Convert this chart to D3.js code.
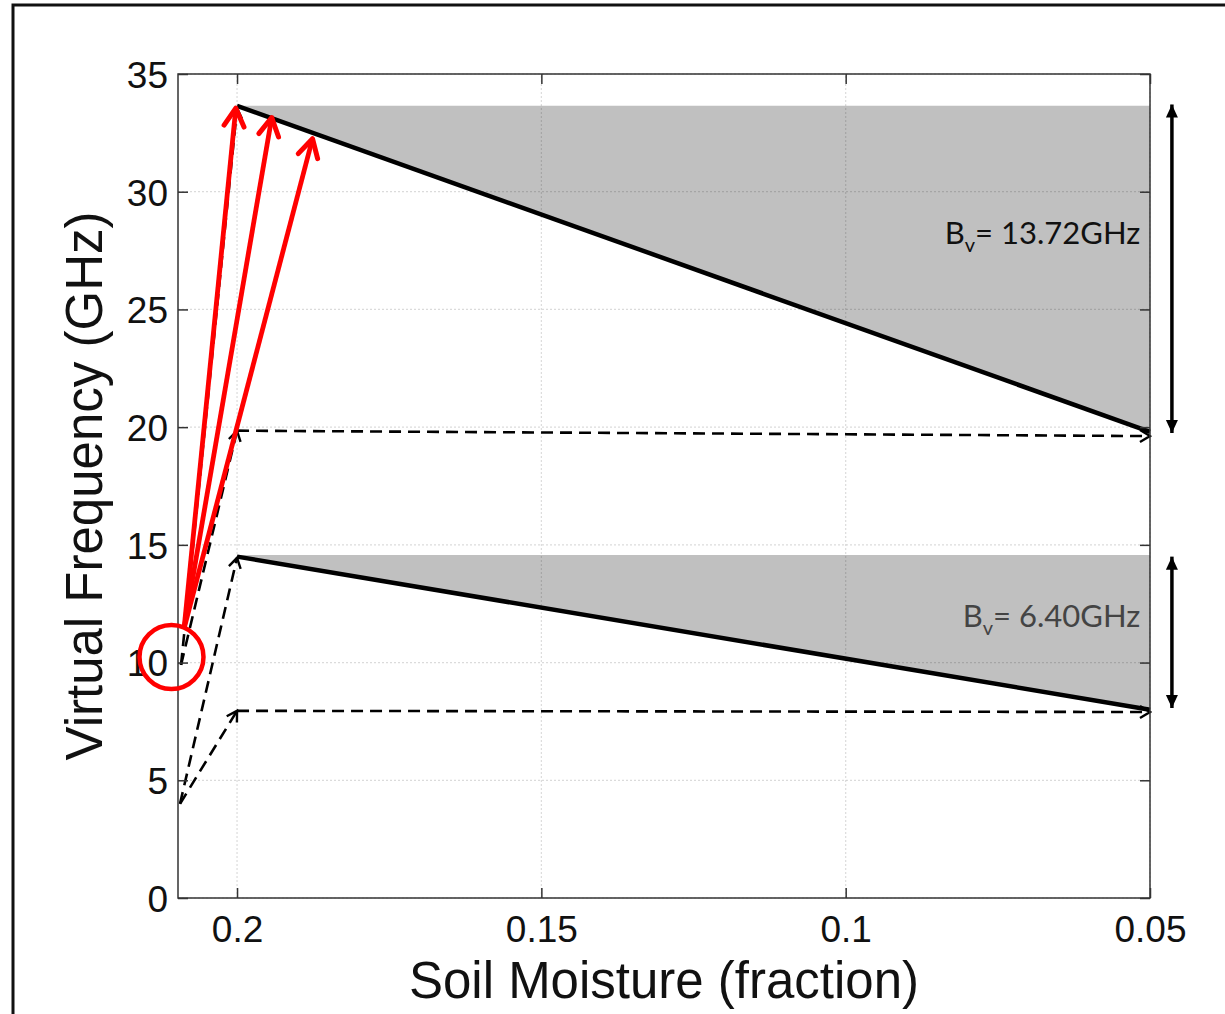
<!DOCTYPE html>
<html>
<head>
<meta charset="utf-8">
<script src="https://cdn.jsdelivr.net/npm/d3@7/dist/d3.min.js"></script>
<style>
  html, body { margin: 0; padding: 0; background: #fff; }
  svg { display: block; }
</style>
</head>
<body>
<svg id="chart" width="1225" height="1014"></svg>
<script>
// ---------- data ----------
const xDomain = [0.2097, 0.05];
const yDomain = [0, 35];
const xTicks = [0.2, 0.15, 0.1, 0.05];
const xTickLabels = ["0.2", "0.15", "0.1", "0.05"];
const yTicks = [0, 5, 10, 15, 20, 25, 30, 35];
const yTickLabels = ["0", "5", "10", "15", "20", "25", "30", "35"];

// upper band: sloped boundary line and flat top
const upperLine = [[0.2, 33.65], [0.05, 19.8]];
const upperTop = 33.65;
// lower band
const lowerLine = [[0.2, 14.5], [0.05, 8.0]];
const lowerTop = 14.57;

// dashed arrows (start -> end)
const dashedArrows = [
  [[0.20937, 4.0], [0.2, 7.95]],
  [[0.20937, 4.0], [0.2, 14.45]],
  [[0.2092, 9.9], [0.2, 19.85]],
  [[0.2092, 9.9], [0.2, 33.55]],
  [[0.2, 7.95], [0.05, 7.9]],
  [[0.2, 19.85], [0.05, 19.62]]
];

// red arrows
const redOrigin = [0.2087, 11.45];
const redTips = [[0.2002, 33.55], [0.1943, 33.15], [0.1876, 32.25]];
const redCircle = [0.21077, 10.24];

// bandwidth double arrows
const bwArrowX = 0.0464;
const bwArrows = [[33.7, 19.75], [14.5, 8.07]];
const bwLabels = [
  { value: "13.72GHz", y: 27.8, color: "#111" },
  { value: "6.40GHz", y: 11.5, color: "#444" }
];

// ---------- layout ----------
const svg = d3.select("#chart");
const x = d3.scaleLinear().domain(xDomain).range([178, 1150]);
const y = d3.scaleLinear().domain(yDomain).range([898, 74]);
const X0 = x.range()[0], X1 = x.range()[1], Y0 = y.range()[0], Y1 = y.range()[1];

// outer frame
svg.append("rect").attr("x", 13).attr("y", 5).attr("width", 1400).attr("height", 1200)
  .attr("fill", "none").attr("stroke", "#111").attr("stroke-width", 3);

// markers
const defs = svg.append("defs");
defs.append("marker").attr("id", "blackOpen").attr("markerUnits", "userSpaceOnUse")
  .attr("viewBox", "-12 -8 14 16").attr("refX", 0).attr("refY", 0)
  .attr("markerWidth", 14).attr("markerHeight", 16).attr("orient", "auto")
  .append("path").attr("d", "M-10,-6 L0,0 L-10,6").attr("fill", "none")
  .attr("stroke", "#000").attr("stroke-width", 2.4);
defs.append("marker").attr("id", "redOpen").attr("markerUnits", "userSpaceOnUse")
  .attr("viewBox", "-22 -14 26 28").attr("refX", 0).attr("refY", 0)
  .attr("markerWidth", 26).attr("markerHeight", 28).attr("orient", "auto")
  .append("path").attr("d", "M-18,-10 L0,0 L-18,10").attr("fill", "none")
  .attr("stroke", "#f00").attr("stroke-width", 5).attr("stroke-linecap", "round")
  .attr("stroke-linejoin", "round");
defs.append("marker").attr("id", "blackFill").attr("markerUnits", "userSpaceOnUse")
  .attr("viewBox", "-14 -7 15 14").attr("refX", 0).attr("refY", 0)
  .attr("markerWidth", 15).attr("markerHeight", 14).attr("orient", "auto-start-reverse")
  .append("path").attr("d", "M-13,-6 L0,0 L-13,6 Z").attr("fill", "#000");

// gray fills
const fills = [[upperLine, upperTop], [lowerLine, lowerTop]];
fills.forEach(([ln, top]) => {
  const pts = [[ln[0][0], top], [ln[1][0], top], [ln[1][0], ln[1][1]], [ln[0][0], ln[0][1]]];
  svg.append("path")
    .attr("d", d3.line().x(d => x(d[0])).y(d => y(d[1]))(pts) + "Z")
    .attr("fill", "#c0c0c0");
});

// grid
const grid = svg.append("g");
grid.selectAll(".gx").data(xTicks).join("line")
  .attr("x1", d => x(d)).attr("x2", d => x(d)).attr("y1", Y0).attr("y2", Y1)
  .attr("stroke", "#000").attr("stroke-opacity", 0.14).attr("stroke-width", 1.2)
  .attr("stroke-dasharray", "2,2");
grid.selectAll(".gy").data(yTicks).join("line")
  .attr("y1", d => y(d)).attr("y2", d => y(d)).attr("x1", X0).attr("x2", X1)
  .attr("stroke", "#000").attr("stroke-opacity", 0.14).attr("stroke-width", 1.2)
  .attr("stroke-dasharray", "2,2");

// thick boundary lines
[upperLine, lowerLine].forEach(ln => {
  svg.append("path")
    .attr("d", d3.line().x(d => x(d[0])).y(d => y(d[1]))(ln))
    .attr("fill", "none").attr("stroke", "#000").attr("stroke-width", 4.5);
});

// dashed arrows
svg.selectAll(".dash").data(dashedArrows).join("path")
  .attr("d", d => d3.line().x(p => x(p[0])).y(p => y(p[1]))(d))
  .attr("fill", "none").attr("stroke", "#000").attr("stroke-width", 2.6)
  .attr("stroke-dasharray", "12,7").attr("marker-end", "url(#blackOpen)");

// axes box
svg.append("rect").attr("x", X0).attr("y", Y1).attr("width", X1 - X0).attr("height", Y0 - Y1)
  .attr("fill", "none").attr("stroke", "#333").attr("stroke-width", 1.5);

const tickLen = 10;
const axB = svg.append("g").attr("transform", `translate(0,${Y0})`)
  .call(d3.axisBottom(x).tickValues(xTicks).tickSize(-tickLen).tickPadding(18)
    .tickFormat((d, i) => xTickLabels[i]));
const axT = svg.append("g").attr("transform", `translate(0,${Y1})`)
  .call(d3.axisTop(x).tickValues(xTicks).tickSize(-tickLen).tickFormat(""));
const axL = svg.append("g").attr("transform", `translate(${X0},0)`)
  .call(d3.axisLeft(y).tickValues(yTicks).tickSize(-tickLen).tickPadding(10)
    .tickFormat((d, i) => yTickLabels[i]));
const axR = svg.append("g").attr("transform", `translate(${X1},0)`)
  .call(d3.axisRight(y).tickValues(yTicks).tickSize(-tickLen).tickFormat(""));
[axB, axT, axL, axR].forEach(g => {
  g.select(".domain").remove();
  g.selectAll(".tick line").attr("stroke", "#333").attr("stroke-width", 1.5);
  g.selectAll("text").attr("font-family", "'Liberation Sans', Arial, sans-serif")
    .attr("font-size", 37).attr("fill", "#111");
});
axB.selectAll("text").attr("dy", "0.71em");
axL.selectAll("text").attr("dy", "0.36em");

// axis titles
svg.append("text").attr("x", (X0 + X1) / 2).attr("y", 998)
  .attr("text-anchor", "middle").attr("font-family", "'Liberation Sans', Arial, sans-serif")
  .attr("font-size", 51).attr("fill", "#111").text("Soil Moisture (fraction)");
svg.append("text").attr("transform", `translate(102,${(Y0 + Y1) / 2}) rotate(-90)`)
  .attr("text-anchor", "middle").attr("font-family", "'Liberation Sans', Arial, sans-serif")
  .attr("font-size", 51).attr("fill", "#111").text("Virtual Frequency (GHz)");

// red arrows
svg.selectAll(".red").data(redTips).join("path")
  .attr("d", d => d3.line().x(p => x(p[0])).y(p => y(p[1]))([redOrigin, d]))
  .attr("fill", "none").attr("stroke", "#f00").attr("stroke-width", 4.8)
  .attr("marker-end", "url(#redOpen)");

// red circle
svg.append("circle").attr("cx", x(redCircle[0])).attr("cy", y(redCircle[1])).attr("r", 32)
  .attr("fill", "none").attr("stroke", "#f00").attr("stroke-width", 4.5);

// bandwidth double arrows
svg.selectAll(".bw").data(bwArrows).join("line")
  .attr("x1", x(bwArrowX)).attr("x2", x(bwArrowX))
  .attr("y1", d => y(d[0])).attr("y2", d => y(d[1]))
  .attr("stroke", "#000").attr("stroke-width", 3.5)
  .attr("marker-start", "url(#blackFill)").attr("marker-end", "url(#blackFill)");

// bandwidth labels
bwLabels.forEach(l => {
  const t = svg.append("text").attr("x", x(0.0516)).attr("y", y(l.y))
    .attr("text-anchor", "end").attr("font-family", "Lato, 'Open Sans', sans-serif")
    .attr("font-size", 31).attr("fill", l.color);
  t.append("tspan").text("B");
  t.append("tspan").attr("font-size", 20).attr("dy", 8).text("v");
  t.append("tspan").attr("dy", -8).text("= " + l.value);
});
</script>
</body>
</html>
